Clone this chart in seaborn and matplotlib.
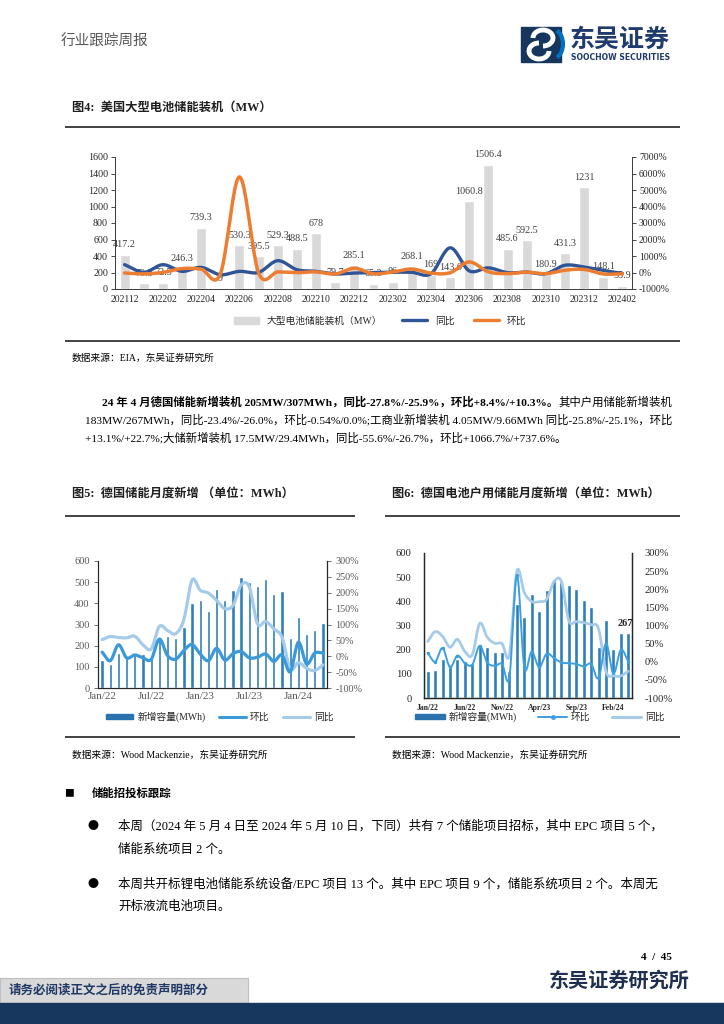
import numpy as np
import matplotlib
matplotlib.use("Agg")
import matplotlib.pyplot as plt
import seaborn as sns
from matplotlib.patches import Rectangle, Patch, Arc
from matplotlib.lines import Line2D

sns.set_theme(style="white")
FONT = ['Liberation Serif', 'Noto Sans CJK SC', 'DejaVu Sans']
CJK = ['Noto Sans CJK SC', 'DejaVu Sans']
plt.rcParams['font.family'] = FONT
plt.rcParams['axes.unicode_minus'] = False

W, H = 724, 1024

# ─────────────────────────────────────────
# DATA — Fig 4: US large battery storage (MW), YoY / MoM in %
# ─────────────────────────────────────────
us_months = ['202112', '202201', '202202', '202203', '202204', '202205',
             '202206', '202207', '202208', '202209', '202210', '202211',
             '202212', '202301', '202302', '202303', '202304', '202305',
             '202306', '202307', '202308', '202309', '202310', '202311',
             '202312', '202401', '202402']
us_mw = [417.2, 70.3, 72.5, 246.3, 739.3, 9, 530.3, 395.5, 529.3, 488.5,
         678, 79.7, 285.1, 65.3, 86, 268.1, 169, 143.6, 1060.8, 1506.4,
         485.6, 592.5, 180.9, 431.3, 1231, 148.1, 35.9]
us_yoy = [475, 5, 475, 70, 310, -135, 70, 5, 715, 170, 70, -90,
          -32, -7, 19, 9, -77, 1496, 100, 281, -8, 21, -73, 441, 332, 127, -58]
us_mom = [-30, -83, 3, 240, 200, -99, 5792, -25, 34, -8, 39, -88, 258,
          -77, 32, 212, -37, -15, 639, 42, -68, 22, -69, 138, 185, -88, -76]

# ─────────────────────────────────────────
# DATA — Fig 5: Germany storage monthly additions (MWh)
# ─────────────────────────────────────────
de_months = ['Jan/22', 'Feb/22', 'Mar/22', 'Apr/22', 'May/22', 'Jun/22',
             'Jul/22', 'Aug/22', 'Sep/22', 'Oct/22', 'Nov/22', 'Dec/22',
             'Jan/23', 'Feb/23', 'Mar/23', 'Apr/23', 'May/23', 'Jun/23',
             'Jul/23', 'Aug/23', 'Sep/23', 'Oct/23', 'Nov/23', 'Dec/23',
             'Jan/24', 'Feb/24', 'Mar/24', 'Apr/24']
de_mwh = [134, 115, 163, 150, 165, 160, 150, 234, 245, 234, 289, 403, 415,
          365, 468, 415, 463, 526, 499, 482, 515, 445, 458, 234, 336, 254,
          276, 307]
de_mom = [13, -14, 36, -5, 4, -5, -10, 54, 2, -9, 18, 37, 7, -14, 25, -12,
          8, 15, -5, -3, 7, -16, 4, -49, 44, -24, 10, 10]
de_yoy = [52, 62, 59, 58, 63, 36, 23, 94, 81, 71, 116, 240, 208, 199, 176,
          150, 160, 224, 218, 102, 110, 86, 60, -40, -20, -38, -45, -27]

# ─────────────────────────────────────────
# DATA — Fig 6: Germany household storage monthly additions (MWh)
# ─────────────────────────────────────────
hh_mwh = [111, 114, 160, 129, 160, 150, 142, 219, 212, 192, 189, 112, 389,
          337, 429, 362, 447, 492, 482, 468, 450, 404, 378, 212, 321, 203,
          268, 267]
hh_mom = [24, 0, 38, -15, 17, -4, -8, 44, -2, -11, -6, -42, 240, -15, 28,
          -15, 22, 10, -2, -4, -6, -13, -6, -45, 50, -33, 33, 0]
hh_yoy = [56, 83, 70, 40, 62, 28, 19, 106, 68, 51, 50, 19, 249, 191, 166,
          166, 172, 221, 221, 113, 111, 108, 102, 91, -27, -39, -39, -26]


def smooth(vals, steps=20):
    """Catmull-Rom curve through the points (like Excel smoothed lines)."""
    y = np.asarray(vals, float)
    p = np.concatenate([[2 * y[0] - y[1]], y, [2 * y[-1] - y[-2]]])
    t = np.linspace(0, 1, steps, endpoint=False)
    h00 = 2 * t**3 - 3 * t**2 + 1
    h10 = t**3 - 2 * t**2 + t
    h01 = -2 * t**3 + 3 * t**2
    h11 = t**3 - t**2
    xs, ys = [], []
    for i in range(len(y) - 1):
        m1 = (p[i + 2] - p[i]) / 2
        m2 = (p[i + 3] - p[i + 1]) / 2
        ys.append(h00 * p[i + 1] + h10 * m1 + h01 * p[i + 2] + h11 * m2)
        xs.append(i + t)
    xs.append([len(y) - 1])
    ys.append([y[-1]])
    return np.concatenate(xs), np.concatenate(ys)


fig = plt.figure(figsize=(W / 100, H / 100), dpi=100)

# page background layer in pixel coords
bg = fig.add_axes([0, 0, 1, 1])
bg.set_xlim(0, W)
bg.set_ylim(H, 0)
bg.axis('off')
bg.set_zorder(-5)


def add_ax(l, t, r, b):
    return fig.add_axes([l / W, 1 - b / H, (r - l) / W, (b - t) / H])


def ptext(x, y, s, size, weight='normal', color='black', ha='left', family=None):
    return fig.text(x / W, 1 - y / H, s, fontsize=size, fontweight=weight,
                    color=color, ha=ha, va='center', family=family or FONT)


def hline(x0, x1, y, lw=1.2, color='#222222'):
    bg.plot([x0, x1], [y, y], color=color, lw=lw, solid_capstyle='butt')


# ─────────────────────────────────────────
# HEADER
# ─────────────────────────────────────────
ptext(61, 42, '行业跟踪周报', 10.5, color='#595959', family=CJK)
bg.add_patch(Rectangle((521, 27), 40, 35, color='#17365D'))
bg.add_patch(Arc((543, 38), 20, 16, theta1=180, theta2=450, color='white', lw=3.5))
bg.add_patch(Arc((539, 51), 20, 16, theta1=0, theta2=270, color='white', lw=3.5))
bg.add_patch(Arc((552, 44), 22, 30, theta1=-70, theta2=70, color='#0070C0', lw=3))
ptext(570, 40, '东吴证券', 18, weight='bold', color='#1F3A6E', family=CJK)
ptext(571, 57, 'SOOCHOW SECURITIES', 5.6, weight='bold', color='#1F3A6E',
      family=['DejaVu Sans'])

# ─────────────────────────────────────────
# FIG 4 — US large battery storage
# ─────────────────────────────────────────
ptext(72, 108, '图4:  美国大型电池储能装机（MW）', 8.8, weight='bold', color='#1F1F1F')
hline(65, 680, 127)

ax = add_ax(115, 157, 632, 289)
sns.barplot(x=us_months, y=us_mw, color='#D9D9D9', width=0.52,
            saturation=1, ax=ax, zorder=1)
for i, v in enumerate(us_mw):
    ax.text(i, v + 122, f'{v:g}', ha='center', va='center', fontsize=7.3,
            color='#404040', zorder=3)
ax.set_ylim(0, 1600)
ax.set_yticks(range(0, 1601, 200))
ax.set_xticks(range(0, len(us_months), 2))
ax.set_xticklabels(us_months[::2])
ax.set_xlim(-0.5, len(us_months) - 0.5)
ax.set_xlabel('')
ax.tick_params(axis='x', labelsize=7, colors='#262626', length=0, pad=4)
ax.tick_params(axis='y', labelsize=7.2, colors='#262626', length=3,
               direction='out', left=True, width=0.6, pad=2)

ax2 = ax.twinx()
xs, ys = smooth(us_yoy)
sns.lineplot(x=xs, y=ys, ax=ax2, color='#2F5597', lw=2.4, sort=False, estimator=None)
xs, ys = smooth(us_mom)
sns.lineplot(x=xs, y=ys, ax=ax2, color='#ED7D31', lw=2.5, sort=False, estimator=None)
ax2.set_ylim(-1000, 7000)
ax2.set_yticks(range(-1000, 7001, 1000))
ax2.set_yticklabels([f'{v}%' for v in range(-1000, 7001, 1000)])
ax2.tick_params(axis='y', labelsize=7, colors='#262626', length=3, width=0.6,
                direction='out', right=True, pad=2)
for a in (ax, ax2):
    a.spines['top'].set_visible(False)
    for s in ('left', 'right', 'bottom'):
        a.spines[s].set_linewidth(0.7)
        a.spines[s].set_color('#404040')

handles = [Patch(color='#D9D9D9', label='大型电池储能装机（MW）'),
           Line2D([], [], color='#2F5597', lw=2.4, label='同比'),
           Line2D([], [], color='#ED7D31', lw=2.4, label='环比')]
fig.legend(handles=handles, loc='center', bbox_to_anchor=(380 / W, 1 - 321 / H),
           ncol=3, frameon=False, handlelength=2.6,
           handleheight=0.8, columnspacing=2.0, prop={'family': FONT, 'size': 7})

hline(65, 680, 341)
ptext(72, 358, '数据来源：EIA，东吴证券研究所', 7, family=FONT)

# ─────────────────────────────────────────
# PARAGRAPH
# ─────────────────────────────────────────
renderer = fig.canvas.get_renderer()
t1 = ptext(102, 402, '24 年 4 月德国储能新增装机 205MW/307MWh，同比-27.8%/-25.9%，环比+8.4%/+10.3%。',
           8.2, weight='bold')
bb = t1.get_window_extent(renderer)
ptext(bb.x1, 402, '其中户用储能新增装机', 8.2)
ptext(85, 420, '183MW/267MWh，同比-23.4%/-26.0%，环比-0.54%/0.0%;工商业新增装机 4.05MW/9.66MWh 同比-25.8%/-25.1%，环比',
      8.2)
ptext(85, 438, '+13.1%/+22.7%;大储新增装机 17.5MW/29.4MWh，同比-55.6%/-26.7%，环比+1066.7%/+737.6%。', 8.2)

# ─────────────────────────────────────────
# FIG 5 — Germany storage monthly additions
# ─────────────────────────────────────────
BAR_BLUE = '#2C7FB8'
ptext(72, 494, '图5:  德国储能月度新增 （单位：MWh）', 8.8, weight='bold', color='#1F1F1F')
hline(65, 355, 516)

ax = add_ax(98, 561, 327, 688)
sns.barplot(x=de_months, y=de_mwh, color=BAR_BLUE, width=0.4, saturation=1, ax=ax)
ax.set_ylim(0, 600)
ax.set_yticks(range(0, 601, 100))
ax.set_xticks(range(0, len(de_months), 6))
ax.set_xticklabels(de_months[::6])
ax.set_xlim(-0.5, len(de_months) - 0.5)
ax.tick_params(axis='y', labelsize=7.5, colors='#595959', length=3, width=0.6,
               direction='out', left=True, pad=3)
ax.tick_params(axis='x', labelsize=8, colors='#595959', direction='in',
               length=3, width=0.6, bottom=True, pad=3)
ax2 = ax.twinx()
xs, ys = smooth(de_yoy)
sns.lineplot(x=xs, y=ys, ax=ax2, color='#A6CBEA', lw=2.3, sort=False, estimator=None)
xs, ys = smooth(de_mom)
sns.lineplot(x=xs, y=ys, ax=ax2, color='#3A9AD9', lw=2.3, sort=False, estimator=None)
ax2.set_ylim(-100, 300)
ax2.set_yticks(range(-100, 301, 50))
ax2.set_yticklabels([f'{v}%' for v in range(-100, 301, 50)])
ax2.tick_params(axis='y', labelsize=7.3, colors='#595959', length=3, width=0.6,
                direction='out', right=True, pad=3)
for a in (ax, ax2):
    a.spines['top'].set_visible(False)
    for s in ('left', 'right', 'bottom'):
        a.spines[s].set_linewidth(0.8)
        a.spines[s].set_color('#262626')

handles = [Patch(color='#2A72AE', label='新增容量(MWh)'),
           Line2D([], [], color='#3A9AD9', lw=2.2, label='环比'),
           Line2D([], [], color='#A6CBEA', lw=2.2, label='同比')]
fig.legend(handles=handles, loc='center', bbox_to_anchor=(220 / W, 1 - 717 / H),
           ncol=3, frameon=False, handlelength=2.8, handleheight=0.5,
           columnspacing=1.4, handletextpad=0.4, prop={'family': FONT, 'size': 7})

hline(65, 355, 737)
ptext(72, 755, '数据来源：Wood Mackenzie，东吴证券研究所', 7, family=FONT)

# ─────────────────────────────────────────
# FIG 6 — Germany household storage
# ─────────────────────────────────────────
ptext(392, 494, '图6:  德国电池户用储能月度新增（单位：MWh）', 8.8, weight='bold', color='#1F1F1F')
hline(385, 680, 516)

ax = add_ax(424, 553, 632, 698)
sns.barplot(x=de_months, y=hh_mwh, color=BAR_BLUE, width=0.55, saturation=1, ax=ax)
ax.text(len(hh_mwh) - 1.4, hh_mwh[-1] + 40, f'{hh_mwh[-1]}', ha='center', va='center',
        fontsize=7.5, fontweight='bold', color='#262626', zorder=5)
ax.set_ylim(0, 600)
ax.set_yticks(range(0, 601, 100))
ax.set_xticks(range(0, len(de_months), 5))
ax.set_xticklabels(de_months[::5])
ax.set_xlim(-0.5, len(de_months) - 0.5)
ax.tick_params(axis='y', labelsize=7.6, colors='#262626', length=0, pad=9)
ax.tick_params(axis='x', labelsize=5.6, colors='#262626', length=0, pad=4)
for lab in ax.get_xticklabels():
    lab.set_fontweight('bold')
ax2 = ax.twinx()
xs, ys = smooth(hh_yoy)
sns.lineplot(x=xs, y=ys, ax=ax2, color='#A6CBEA', lw=2.0, sort=False, estimator=None)
xs, ys = smooth(hh_mom)
sns.lineplot(x=xs, y=ys, ax=ax2, color='#3D9FE0', lw=1.4, sort=False, estimator=None)
sns.scatterplot(x=np.arange(len(hh_mom)), y=hh_mom, ax=ax2, color='#3D9FE0',
                s=6, marker='o', linewidth=0)
ax2.set_ylim(-100, 300)
ax2.set_yticks(range(-100, 301, 50))
ax2.set_yticklabels([f'{v}%' for v in range(-100, 301, 50)])
ax2.tick_params(axis='y', labelsize=7.6, colors='#262626', length=0, pad=9)
for a in (ax, ax2):
    a.spines['top'].set_visible(False)
    for s in ('left', 'right', 'bottom'):
        a.spines[s].set_linewidth(0.9)
        a.spines[s].set_color('#262626')

handles = [Patch(color='#2A72AE', label='新增容量(MWh)'),
           Line2D([], [], color='#3D9FE0', lw=1.4, marker='o', markersize=2.5,
                  label='环比'),
           Line2D([], [], color='#A6CBEA', lw=2.2, label='同比')]
fig.legend(handles=handles, loc='center', bbox_to_anchor=(540 / W, 1 - 717 / H),
           ncol=3, frameon=False, handlelength=3.0, handleheight=0.5,
           columnspacing=2.2, handletextpad=0.4, prop={'family': FONT, 'size': 7})

hline(385, 680, 737)
ptext(392, 755, '数据来源：Wood Mackenzie，东吴证券研究所', 7, family=FONT)

# ─────────────────────────────────────────
# BIDDING SECTION
# ─────────────────────────────────────────
ptext(64, 793, '■', 7, family=CJK)
ptext(92, 793, '储能招投标跟踪', 8.2, weight='bold', family=CJK)
ptext(88, 826, '●', 8, family=CJK)
ptext(118, 826, '本周（2024 年 5 月 4 日至 2024 年 5 月 10 日，下同）共有 7 个储能项目招标，其中 EPC 项目 5 个，', 9.0)
ptext(118, 850, '储能系统项目 2 个。', 9.0)
ptext(88, 884, '●', 8, family=CJK)
ptext(118, 884, '本周共开标锂电池储能系统设备/EPC 项目 13 个。其中 EPC 项目 9 个，储能系统项目 2 个。本周无', 9.0)
ptext(118, 907, '开标液流电池项目。', 9.0)

# ─────────────────────────────────────────
# FOOTER
# ─────────────────────────────────────────
ptext(672, 957, '4  /  45', 8, weight='bold', ha='right')
ptext(690, 982, '东吴证券研究所', 14.5, weight='bold', color='#1F2F4F', ha='right')
bg.add_patch(Rectangle((0, 978), 248, 26, facecolor='#D9D9D9', edgecolor='#BFBFBF', lw=0.8))
bg.add_patch(Rectangle((0, 1003), W, 21, color='#17375E'))
ptext(9, 991, '请务必阅读正文之后的免责声明部分', 9, weight='bold', color='#1F3864')

fig.savefig('out.png', dpi=100)
